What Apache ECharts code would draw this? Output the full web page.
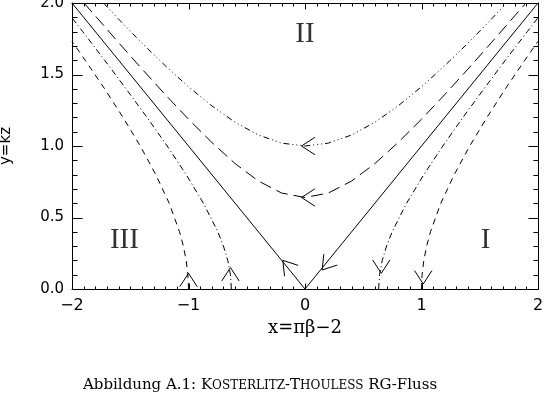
<!DOCTYPE html>
<html>
<head>
<meta charset="utf-8">
<script src="https://cdn.jsdelivr.net/npm/echarts@6/dist/echarts.min.js"></script>
<style>
  html, body { margin: 0; padding: 0; background: #fff; }
  #kt_flow { width: 544px; height: 397px; }
</style>
</head>
<body>
<div id="kt_flow"></div>
<script>
// Separatrix y = |x|
var separatrix = [[-2, 2], [0, 0], [2, 2]];
// Region II, upper curve (dash-dot-dot-dot)
var upperOuter = [[-1.73, 2.0], [-1.6, 1.887], [-1.4, 1.72], [-1.2, 1.562], [-1.0, 1.414], [-0.8, 1.281],
    [-0.6, 1.166], [-0.4, 1.077], [-0.2, 1.02], [0, 1.0], [0.2, 1.02], [0.4, 1.077], [0.6, 1.166],
    [0.8, 1.281], [1.0, 1.414], [1.2, 1.562], [1.4, 1.72], [1.6, 1.887], [1.73, 2.0]];
// Region II, lower curve (long dash)
var upperInner = [[-1.897, 2.0], [-1.8, 1.91], [-1.6, 1.723], [-1.4, 1.539], [-1.2, 1.36], [-1.0, 1.187],
    [-0.8, 1.025], [-0.6, 0.877], [-0.4, 0.755], [-0.2, 0.671], [0, 0.64], [0.2, 0.671], [0.4, 0.755],
    [0.6, 0.877], [0.8, 1.025], [1.0, 1.187], [1.2, 1.36], [1.4, 1.539], [1.6, 1.723], [1.8, 1.91], [1.897, 2.0]];
// Regions I / III, outer branches (dashed)
var sideOuterLeft = [[-1.0, 0], [-1.005, 0.1], [-1.02, 0.2], [-1.044, 0.3], [-1.077, 0.4], [-1.166, 0.6],
    [-1.281, 0.8], [-1.414, 1.0], [-1.562, 1.2], [-1.72, 1.4], [-1.887, 1.6], [-2.0, 1.732]];
var sideOuterRight = [[1.0, 0], [1.005, 0.1], [1.02, 0.2], [1.044, 0.3], [1.077, 0.4], [1.166, 0.6],
    [1.281, 0.8], [1.414, 1.0], [1.562, 1.2], [1.72, 1.4], [1.887, 1.6], [2.0, 1.732]];
// Regions I / III, inner branches (dash-dot)
var sideInnerLeft = [[-0.632, 0], [-0.64, 0.1], [-0.663, 0.2], [-0.7, 0.3], [-0.748, 0.4], [-0.872, 0.6],
    [-1.02, 0.8], [-1.183, 1.0], [-1.356, 1.2], [-1.536, 1.4], [-1.72, 1.6], [-1.908, 1.8], [-2.0, 1.897]];
var sideInnerRight = [[0.632, 0], [0.64, 0.1], [0.663, 0.2], [0.7, 0.3], [0.748, 0.4], [0.872, 0.6],
    [1.02, 0.8], [1.183, 1.0], [1.356, 1.2], [1.536, 1.4], [1.72, 1.6], [1.908, 1.8], [2.0, 1.897]];
// flow arrows: [x, y, direction in degrees on screen]
var arrows = [[-0.03, 1.0, 180], [-0.03, 0.64, 180], [-0.19, 0.2, 129], [0.147, 0.133, 231],
    [-1.0, 0.11, 90], [-0.64, 0.15, 90], [0.655, 0.11, 270], [1.015, 0.035, 270]];
// region names
var regions = [[0, 1.78, 'II'], [-1.55, 0.34, 'III'], [1.55, 0.34, 'I']];
// tick positions (box ticks, drawn inward on all four sides)
var xMajor = [-2, -1, 0, 1, 2];
var xMinor = [-1.9, -1.8, -1.7, -1.6, -1.5, -1.4, -1.3, -1.2, -1.1, -0.9, -0.8, -0.7, -0.6, -0.5, -0.4,
    -0.3, -0.2, -0.1, 0.1, 0.2, 0.3, 0.4, 0.5, 0.6, 0.7, 0.8, 0.9, 1.1, 1.2, 1.3, 1.4, 1.5, 1.6, 1.7, 1.8, 1.9];
var yMajor = [0, 0.5, 1, 1.5, 2];
var yMinor = [0.1, 0.2, 0.3, 0.4, 0.6, 0.7, 0.8, 0.9, 1.1, 1.2, 1.3, 1.4, 1.6, 1.7, 1.8, 1.9];

var myChart = echarts.init(document.getElementById('kt_flow'));

var axisFont = { fontFamily: 'DejaVu Sans', fontSize: 15, color: '#000' };

function curve(data, dash) {
    return {
        type: 'line',
        data: data,
        showSymbol: false,
        symbol: 'none',
        silent: true,
        lineStyle: { color: '#000', width: 1, type: dash }
    };
}

function boxLine() {
    return {
        axisLine: { show: true, onZero: false, lineStyle: { color: '#000', width: 1 } },
        axisTick: { show: false },
        minorTick: { show: false },
        splitLine: { show: false }
    };
}

// tick items: [value, major (1/0), side (0 = bottom/left, 1 = top/right)]
var xTickData = [];
var yTickData = [];
[0, 1].forEach(function (side) {
    xMajor.forEach(function (v) { xTickData.push([v, 1, side]); });
    xMinor.forEach(function (v) { xTickData.push([v, 0, side]); });
    yMajor.forEach(function (v) { yTickData.push([v, 1, side]); });
    yMinor.forEach(function (v) { yTickData.push([v, 0, side]); });
});

function tickSeries(data, horizontal) {
    return {
        type: 'custom',
        silent: true,
        clip: false,
        z: 5,
        data: data,
        encode: { x: 0, y: 1 },
        renderItem: function (params, api) {
            var v = api.value(0);
            var major = api.value(1);
            var side = api.value(2);
            var p, q;
            if (horizontal) {
                // ticks on bottom / top x axes
                var len = major ? 6 : 3;
                p = api.coord([v, side ? 2 : 0]);
                var x = Math.round(p[0]) + 0.5;
                var y0 = Math.round(p[1]) + 0.5;
                q = [[x, y0], [x, side ? y0 + len : y0 - len]];
            } else {
                // ticks on left / right y axes
                var len2 = major ? 10 : 5;
                p = api.coord([side ? 2 : -2, v]);
                var yy = Math.round(p[1]) + 0.5;
                var x0 = Math.round(p[0]) + 0.5;
                q = [[x0, yy], [side ? x0 - len2 : x0 + len2, yy]];
            }
            return {
                type: 'polyline',
                shape: { points: q },
                style: { stroke: '#000', lineWidth: 1, fill: null }
            };
        }
    };
}

var option = {
    animation: false,
    backgroundColor: '#fff',
    grid: { left: 72, right: 6, top: 3, bottom: 108, containLabel: false, outerBoundsMode: 'none' },
    xAxis: [Object.assign({
        type: 'value',
        min: -2, max: 2, interval: 1,
        axisLabel: {
            margin: 9, fontFamily: 'DejaVu Sans', fontSize: 16, color: '#000',
            formatter: function (v) { return v < 0 ? '\u2212' + (-v) : String(v); }
        },
        name: 'x=\u03c0\u03b2\u22122',
        nameLocation: 'middle',
        nameGap: 29,
        nameTextStyle: { fontFamily: 'DejaVu Serif', fontSize: 18, color: '#000' }
    }, boxLine()), Object.assign({
        type: 'value',
        position: 'top',
        min: -2, max: 2, interval: 1,
        axisLabel: { show: false }
    }, boxLine())],
    yAxis: [Object.assign({
        type: 'value',
        min: 0, max: 2, interval: 0.5,
        axisLabel: Object.assign({ margin: 8, formatter: function (v) { return v.toFixed(1); } }, axisFont),
        name: 'y=kz',
        nameLocation: 'middle',
        nameGap: 58,
        nameTextStyle: axisFont
    }, boxLine()), Object.assign({
        type: 'value',
        position: 'right',
        min: 0, max: 2, interval: 0.5,
        axisLabel: { show: false }
    }, boxLine())],
    graphic: [{
        type: 'text',
        left: 83,
        top: 378,
        style: {
            text: '{n|Abbildung A.1: }{b|K}{s|OSTERLITZ}{n|-}{b|T}{s|HOULESS}{n| RG-Fluss}',
            rich: {
                n: { fontFamily: 'DejaVu Serif', fontSize: 15, fill: '#000' },
                b: { fontFamily: 'DejaVu Serif', fontSize: 15, fill: '#000' },
                s: { fontFamily: 'DejaVu Serif', fontSize: 12, fill: '#000' }
            }
        }
    }],
    series: [
        curve(separatrix, 'solid'),
        curve(upperOuter, [6, 3, 1, 3, 1, 3, 1, 3]),
        curve(upperInner, [12, 6]),
        curve(sideOuterLeft, [6, 5]),
        curve(sideOuterRight, [6, 5]),
        curve(sideInnerLeft, [6, 3, 1, 3]),
        curve(sideInnerRight, [6, 3, 1, 3]),
        tickSeries(xTickData, true),
        tickSeries(yTickData, false),
        {
            type: 'custom',
            silent: true,
            data: arrows,
            renderItem: function (params, api) {
                var tip = api.coord([api.value(0), api.value(1)]);
                var back = (api.value(2) + 180) * Math.PI / 180;
                var half = 33 * Math.PI / 180;
                var len = 16;
                var p1 = [tip[0] + len * Math.cos(back + half), tip[1] - len * Math.sin(back + half)];
                var p2 = [tip[0] + len * Math.cos(back - half), tip[1] - len * Math.sin(back - half)];
                return {
                    type: 'polyline',
                    shape: { points: [p1, tip, p2] },
                    style: { stroke: '#000', lineWidth: 1, fill: null }
                };
            }
        },
        {
            type: 'scatter',
            silent: true,
            symbolSize: 0,
            data: regions,
            label: {
                show: true,
                position: 'inside',
                formatter: function (p) { return p.value[2]; },
                fontFamily: 'Liberation Serif',
                fontSize: 29,
                color: '#000'
            }
        }
    ]
};
myChart.setOption(option);
</script>
</body>
</html>
